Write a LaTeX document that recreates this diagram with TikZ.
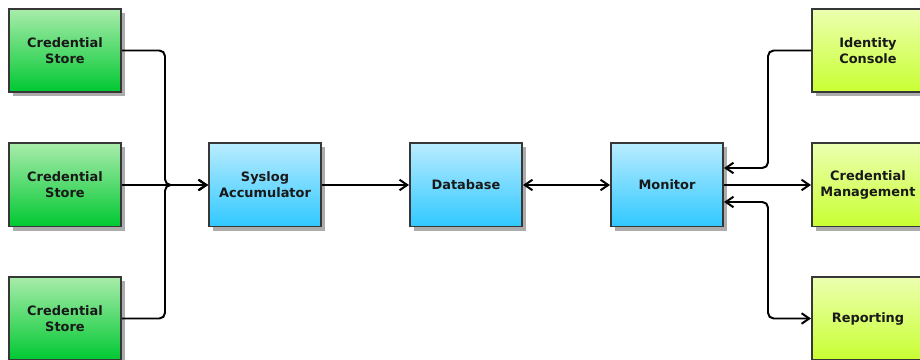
\documentclass[tikz,border=0pt]{standalone}
\usepackage{fontspec}
\setmainfont{DejaVu Sans}
\usetikzlibrary{arrows.meta,calc,shadows}

\definecolor{greenTop}{RGB}{168,236,170}
\definecolor{greenBot}{RGB}{0,200,50}
\definecolor{blueTop}{RGB}{184,236,255}
\definecolor{blueBot}{RGB}{48,200,255}
\definecolor{limeTop}{RGB}{236,255,176}
\definecolor{limeBot}{RGB}{200,255,50}
\definecolor{boxline}{RGB}{55,55,55}
\definecolor{shadowgray}{RGB}{172,172,172}

\begin{document}
\begin{tikzpicture}[>={Straight Barb[length=5.5pt,width=7.5pt]},x=0.025cm,y=0.025cm]
	
	% ------------------------------------------------------------
	% Styles
	% ------------------------------------------------------------
	\tikzset{
		box/.style={draw=boxline,line width=1.4pt,minimum width=2.8cm,
			minimum height=2.075cm,inner sep=0pt,align=center,text=black!90,
			font=\bfseries\fontsize{9.2}{11.4}\selectfont,
			drop shadow={shadow xshift=0.1cm,shadow yshift=-0.1cm,
				fill=shadowgray,opacity=1}},
		store/.style={box,top color=greenTop,bottom color=greenBot},
		core/.style={box,top color=blueTop,bottom color=blueBot},
		client/.style={box,top color=limeTop,bottom color=limeBot},
		feed/.style={->,line width=1.4pt,rounded corners=4pt},
		both/.style={<->,line width=1.4pt,rounded corners=4pt}
	}
	
	\useasboundingbox (0,0) rectangle (920,360);
	\clip (0,0) rectangle (920,360);
	
	% ============================================================
	% LEFT: the three stores
	% ============================================================
	\node[store] (cs1) at (65,309.5) {Credential\\Store};
	\node[store] (cs2) at (65,175)   {Credential\\Store};
	\node[store] (cs3) at (65,41.5)  {Credential\\Store};
	
	% ============================================================
	% MIDDLE: collection chain
	% ============================================================
	\node[core] (syslog) at (265,175) {Syslog\\Accumulator};
	\node[core] (db)     at (466,175) {Database};
	\node[core] (mon)    at (667,175) {Monitor};
	
	% ============================================================
	% RIGHT: consumers
	% ============================================================
	\node[client] (idc) at (868,309.5) {Identity\\Console};
	\node[client] (cm)  at (868,175)   {Credential\\Management};
	\node[client] (rep) at (868,41.5)  {Reporting};
	
	% ============================================================
	% Connectors
	% ============================================================
	% stores merge into one line before the accumulator
	\coordinate (join) at (165,175);
	\draw[feed] (cs1.east) -| (join) -- (syslog.west);
	\draw[feed] (cs2.east) -- (syslog.west);
	\draw[feed] (cs3.east) -| (join) -- (syslog.west);
	
	\draw[feed] (syslog.east) -- (db.west);
	\draw[both] (db.east) -- (mon.west);
	
	% monitor side ports
	\coordinate (monIn)  at ($(mon.east)+(0,17)$);
	\coordinate (monOut) at ($(mon.east)+(0,-17)$);
	\draw[feed] (idc.west) -| ($(monIn)+(44,0)$) -- (monIn);
	\draw[feed] (mon.east) -- (cm.west);
	\draw[both] (monOut) -- ++(44,0) |- (rep.west);
	
\end{tikzpicture}
\end{document}
